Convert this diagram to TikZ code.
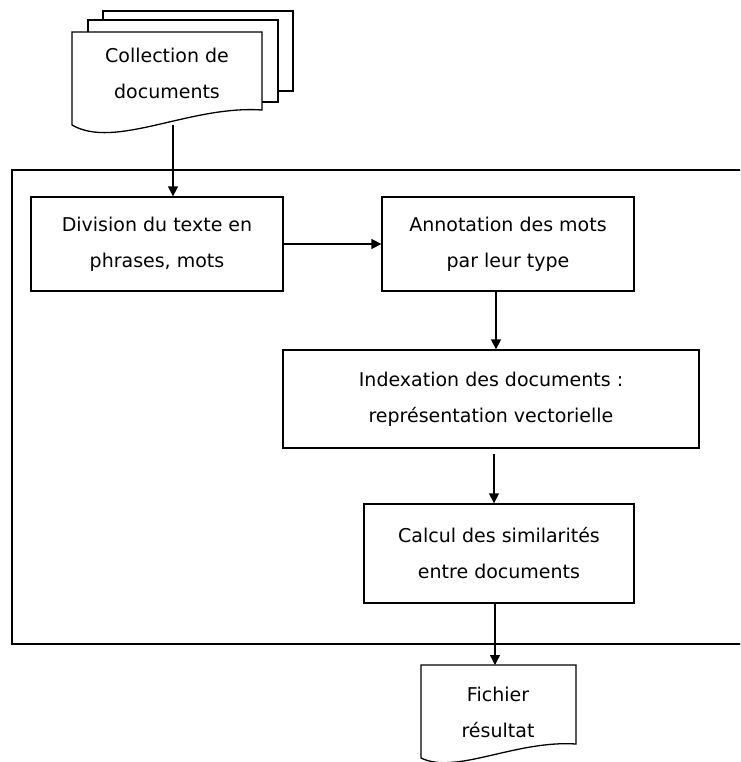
\documentclass[tikz,border=0pt]{standalone}
\usepackage{fontspec}
\setmainfont{DejaVu Sans}
\usetikzlibrary{arrows.meta}
\begin{document}
\begin{tikzpicture}[x=1pt,y=-1pt,
  every node/.style={font=\fontsize{19}{36}\selectfont, align=center, inner sep=0pt},
  box/.style={draw=black, line width=1.3pt, fill=white, rectangle},
  outl/.style={draw=black, line width=1.3pt, fill=white},
  arr/.style={draw=black, line width=1.3pt, -{Triangle[length=10pt,width=10pt]}},
  frame/.style={draw=black, line width=1.2pt}
  ]
\useasboundingbox[fill=white] (0,0) rectangle (740,762);
\clip (0,0) rectangle (740,762);
% outer frame (open on the right, running off the picture)
\draw[frame] (742,170) -- (12,170) -- (12,644) -- (742,644);
% collection of documents (stacked pages)
\draw[outl] (103,11) rectangle (293,91);
\draw[outl] (88,20) rectangle (278,102);
\draw[outl] (72,32) -- (262,32) -- (262,110)
   .. controls (190,105) and (115,150) .. (72,125) -- cycle;
\node (coll) at (167,73) {Collection de\\documents};
\coordinate (collbot) at (173,125);
% result file
\draw[outl] (421,665) -- (576,665) -- (576,744)
   .. controls (515,740) and (456,775) .. (421,758) -- cycle;
\node (fich) at (498,712) {Fichier\\résultat};
\coordinate (fichtop) at (495,665);
% process boxes
\node[box, minimum width=252pt, minimum height=94pt] (div) at (157,244) {Division du texte en\\phrases, mots};
\node[box, minimum width=252pt, minimum height=94pt] (ann) at (508,244) {Annotation des mots\\par leur type};
\node[box, minimum width=416pt, minimum height=98pt] (idx) at (491,399) {Indexation des documents :\\représentation vectorielle};
\node[box, minimum width=270pt, minimum height=99pt] (calc) at (499,553.5) {Calcul des similarités\\entre documents};
% connectors
\draw[arr] (collbot) -- (collbot |- div.north);
\draw[arr] (div.east) -- (ann.west);
\draw[arr] ([xshift=-12pt]ann.south) -- ([xshift=-12pt]ann.south |- idx.north);
\draw[arr, shorten <=5pt] ([xshift=3pt]idx.south) -- ([xshift=3pt]idx.south |- calc.north);
\draw[arr] (fichtop |- calc.south) -- (fichtop);
\end{tikzpicture}
\end{document}
